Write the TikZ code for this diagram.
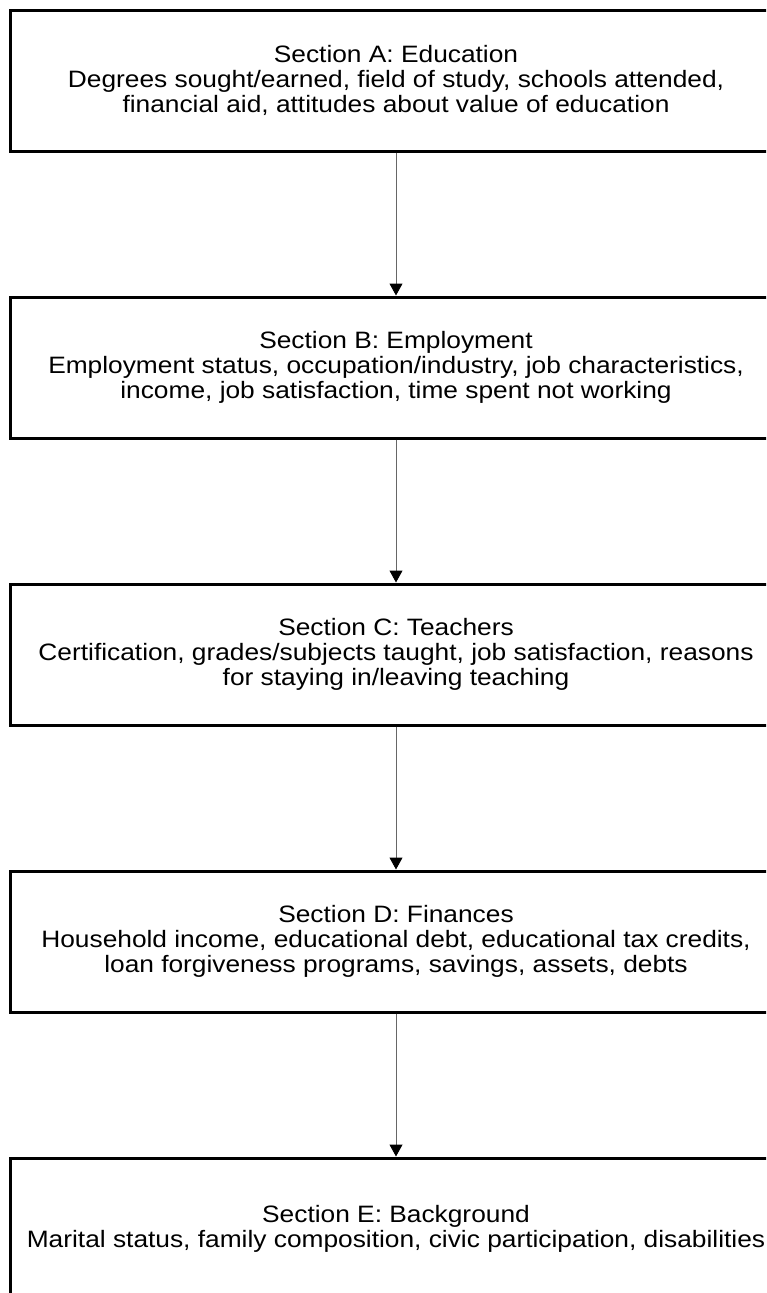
\documentclass[tikz,border=0pt]{standalone}
\usepackage{fontspec}
\setmainfont[FakeStretch=1.11]{Liberation Sans}
\usetikzlibrary{positioning,graphs,arrows.meta}

\begin{document}
\begin{tikzpicture}[x=1pt, y=-1pt, node distance=143pt,
	section/.style = {draw, line width=3pt, minimum width=772pt, minimum height=141pt, inner sep=0pt, align=center, font=\fontsize{23.7}{25}\selectfont},
	every edge/.style = {draw, line width=1pt, black!60, -{Triangle[length=12pt, width=13pt, black]}}]
\clip (0,0) rectangle (766,1293);
\node[section] at (396,80.5)			 (sec a)	{Section A: Education\\Degrees sought/earned, field of study, schools attended,\\financial aid, attitudes about value of education};
\node[section, below=of sec a]		 (sec b)	{Section B: Employment\\Employment status, occupation/industry, job characteristics,\\income, job satisfaction, time spent not working};
\node[section, below=of sec b]		 (sec c)	{Section C: Teachers\\Certification, grades/subjects taught, job satisfaction, reasons\\for staying in/leaving teaching};
\node[section, below=of sec c]		 (sec d)	{Section D: Finances\\Household income, educational debt, educational tax credits,\\loan forgiveness programs, savings, assets, debts};
\node[section, below=of sec d]		 (sec e)	{Section E: Background\\Marital status, family composition, civic participation, disabilities};

\graph{
	(sec a) -> (sec b) -> (sec c) -> (sec d) -> (sec e);
};

\end{tikzpicture}
\end{document}
